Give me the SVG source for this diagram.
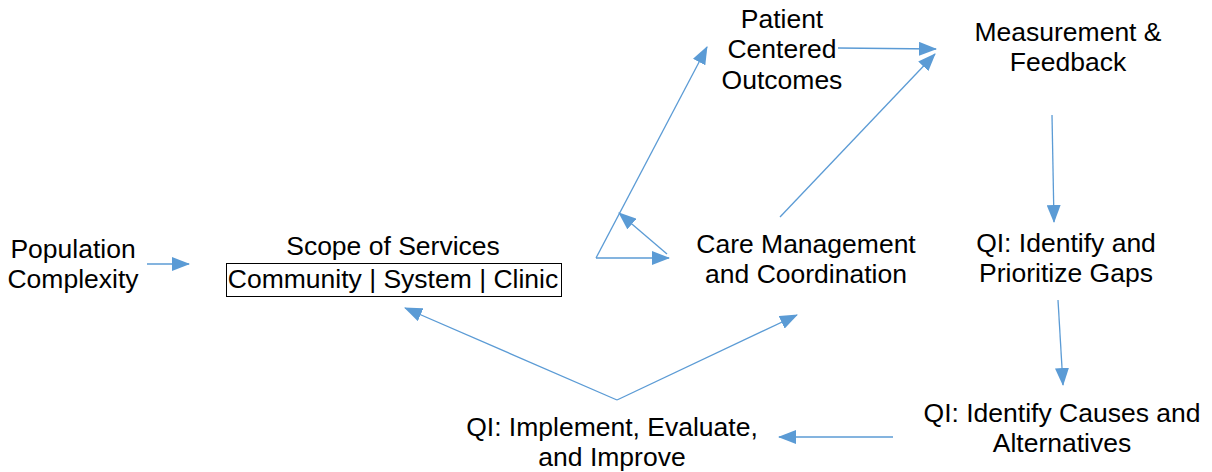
<svg xmlns="http://www.w3.org/2000/svg" width="1212" height="472" viewBox="0 0 1212 472">
<style>
text{font-family:"Liberation Sans",Arial,sans-serif;font-size:26.5px;fill:#000;text-anchor:middle}
.c{stroke:#5b9bd5;stroke-width:1.3;fill:none;marker-end:url(#ah)}
</style>
<defs>
<marker id="ah" markerUnits="userSpaceOnUse" markerWidth="18" markerHeight="14" refX="17" refY="7" orient="auto">
<path d="M0,0 L18,7 L0,14 z" fill="#5b9bd5"/>
</marker>
</defs>
<rect width="1212" height="472" fill="#fff"/>
<g id="population"><text x="73" y="258">Population</text><text x="73" y="288">Complexity</text></g>
<g id="scope"><text x="393" y="255">Scope of Services</text><rect x="226.5" y="263.5" width="335" height="33" fill="none" stroke="#000" stroke-width="1"/><text x="393" y="288">Community | System | Clinic</text></g>
<g id="care"><text x="806" y="253">Care Management</text><text x="806" y="283">and Coordination</text></g>
<g id="patient"><text x="782" y="28">Patient</text><text x="782" y="58">Centered</text><text x="782" y="89">Outcomes</text></g>
<g id="measurement"><text x="1068" y="41">Measurement &amp;</text><text x="1068" y="71">Feedback</text></g>
<g id="gaps"><text x="1066" y="252">QI: Identify and</text><text x="1066" y="282">Prioritize Gaps</text></g>
<g id="causes"><text x="1062" y="422">QI: Identify Causes and</text><text x="1062" y="452">Alternatives</text></g>
<g id="implement"><text x="612" y="436">QI: Implement, Evaluate,</text><text x="612" y="466">and Improve</text></g>
<g id="connectors">
<line class="c" x1="147" y1="264" x2="189" y2="264"/>
<line class="c" x1="596" y1="258" x2="669" y2="258"/>
<line class="c" x1="596" y1="258" x2="707" y2="47"/>
<line class="c" x1="667" y1="254" x2="619" y2="213"/>
<line class="c" x1="838" y1="48" x2="936" y2="49"/>
<line class="c" x1="780" y1="217" x2="935" y2="54"/>
<line class="c" x1="1052" y1="115" x2="1054" y2="222"/>
<line class="c" x1="1058" y1="300" x2="1063" y2="385"/>
<line class="c" x1="893" y1="437" x2="779" y2="437"/>
<line class="c" x1="617" y1="400" x2="405" y2="308"/>
<line class="c" x1="617" y1="400" x2="797" y2="315"/>
</g>
</svg>
